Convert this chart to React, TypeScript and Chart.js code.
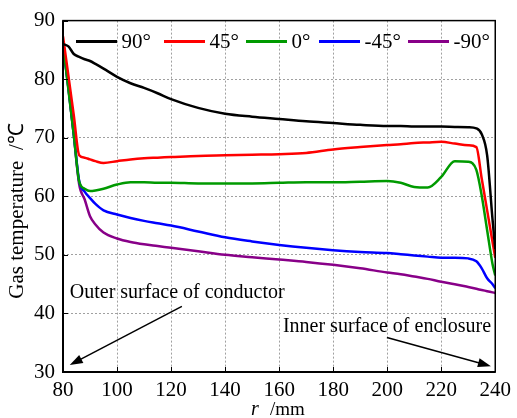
import React, { useEffect, useRef } from 'react';
import { Chart, registerables } from 'chart.js';

Chart.register(...registerables);

const FONT = '"Liberation Serif", "Times New Roman", serif';

// radial position r (mm)
const rValues = [80, 82, 84, 86, 88, 90, 92, 95, 100, 105, 110, 115, 120, 130, 140, 150, 160, 170, 180, 190, 200, 205, 210, 215, 220, 225, 230, 233, 235, 237, 239, 240];

// gas temperature (°C) per angle
const temp90 = [86.0, 85.6, 84.3, 83.8, 83.4, 83.1, 82.6, 81.8, 80.4, 79.3, 78.5, 77.6, 76.6, 75.1, 74.1, 73.6, 73.2, 72.8, 72.5, 72.2, 72.0, 72.0, 71.9, 71.9, 71.9, 71.85, 71.8, 71.6, 70.6, 67.0, 56.0, 51.0];
const temp45 = [87.3, 80.6, 73.8, 67.0, 66.6, 66.3, 66.0, 65.7, 66.0, 66.3, 66.5, 66.6, 66.7, 66.9, 67.0, 67.1, 67.2, 67.4, 68.0, 68.4, 68.75, 68.9, 69.1, 69.2, 69.3, 69.0, 68.7, 68.4, 63.0, 57.6, 52.2, 49.5];
const temp0 = [86.0, 78.2, 70.4, 62.5, 61.3, 60.9, 61.0, 61.3, 62.0, 62.4, 62.4, 62.3, 62.3, 62.2, 62.2, 62.2, 62.3, 62.4, 62.4, 62.5, 62.6, 62.3, 61.6, 61.5, 63.3, 66.0, 65.9, 64.5, 60.1, 54.2, 48.4, 46.5];
const tempM45 = [86.0, 78.5, 70.5, 62.6, 60.8, 59.7, 58.7, 57.6, 56.9, 56.3, 55.8, 55.4, 55.0, 54.0, 53.0, 52.3, 51.7, 51.2, 50.8, 50.5, 50.3, 50.1, 49.9, 49.7, 49.5, 49.5, 49.4, 48.9, 47.7, 46.0, 45.0, 44.3];
const tempM90 = [86.0, 78.5, 70.5, 62.0, 59.5, 56.6, 55.2, 53.8, 52.8, 52.2, 51.8, 51.5, 51.2, 50.6, 50.0, 49.6, 49.2, 48.8, 48.3, 47.7, 47.0, 46.7, 46.3, 45.9, 45.4, 45.0, 44.5, 44.2, 44.0, 43.8, 43.6, 43.5];

const seriesLabels = ['90°', '45°', '0°', '-45°', '-90°'];
const seriesValues = [temp90, temp45, temp0, tempM45, tempM90];
const seriesColors = ['#000000', '#ff0000', '#009a00', '#0000ff', '#880088'];

const xTicks = [80, 100, 120, 140, 160, 180, 200, 220, 240];
const yTicks = [30, 40, 50, 60, 70, 80, 90];

const yTitle = 'Gas temperature  /℃';
const xTitleVar = 'r';
const xTitleUnit = '/mm';
const noteOuter = 'Outer surface of conductor';
const noteInner = 'Inner surface of enclosure';

// legend sample start positions (px)
const legendStarts = [76, 164, 246, 319, 408];

function drawArrow(ctx: CanvasRenderingContext2D, x1: number, y1: number, x2: number, y2: number) {
  const ang = Math.atan2(y2 - y1, x2 - x1);
  const L = 13, W = 4.5;
  const c = Math.cos(ang), s = Math.sin(ang);
  ctx.beginPath();
  ctx.moveTo(x1, y1);
  ctx.lineTo(x2 - (L - 2) * c, y2 - (L - 2) * s);
  ctx.stroke();
  ctx.beginPath();
  ctx.moveTo(x2, y2);
  ctx.lineTo(x2 - L * c + W * s, y2 - L * s - W * c);
  ctx.lineTo(x2 - L * c - W * s, y2 - L * s + W * c);
  ctx.closePath();
  ctx.fill();
}

const decorPlugin = {
  id: 'decor',
  afterDraw(chart: any) {
    const { ctx, chartArea: a, scales } = chart;
    const x = scales.x, y = scales.y;
    ctx.save();
    // inward tick marks
    ctx.strokeStyle = '#000';
    ctx.lineWidth = 1;
    xTicks.forEach((v) => {
      const px = Math.round(x.getPixelForValue(v)) + 0.5;
      ctx.beginPath();
      ctx.moveTo(px, a.bottom);
      ctx.lineTo(px, a.bottom - 5);
      ctx.stroke();
    });
    yTicks.forEach((v) => {
      const py = Math.round(y.getPixelForValue(v)) + 0.5;
      ctx.beginPath();
      ctx.moveTo(a.left, py);
      ctx.lineTo(a.left + 5, py);
      ctx.stroke();
    });
    // frame
    ctx.lineWidth = 1.5;
    ctx.strokeRect(a.left, a.top, a.right - a.left, a.bottom - a.top);
    ctx.lineWidth = 2;
    ctx.beginPath();
    ctx.moveTo(a.left, a.top);
    ctx.lineTo(a.left, a.bottom);
    ctx.lineTo(a.right, a.bottom);
    ctx.stroke();

    // legend
    ctx.font = `21px ${FONT}`;
    ctx.textBaseline = 'middle';
    ctx.textAlign = 'left';
    const ly = a.top + 21;
    chart.data.datasets.forEach((ds: any, i: number) => {
      const lx = legendStarts[i];
      ctx.strokeStyle = ds.borderColor;
      ctx.lineWidth = 3;
      ctx.beginPath();
      ctx.moveTo(lx, ly);
      ctx.lineTo(lx + 41, ly);
      ctx.stroke();
      ctx.fillStyle = '#000';
      ctx.fillText(ds.label, lx + 45.5, ly + 1);
    });

    // annotations
    ctx.fillStyle = '#000';
    ctx.strokeStyle = '#000';
    ctx.lineWidth = 1.5;
    ctx.font = `20px ${FONT}`;
    ctx.textBaseline = 'middle';
    ctx.fillText(noteOuter, x.getPixelForValue(82.5), y.getPixelForValue(43.5));
    ctx.fillText(noteInner, x.getPixelForValue(161.4), y.getPixelForValue(37.7));
    drawArrow(ctx, x.getPixelForValue(124), y.getPixelForValue(41.2), x.getPixelForValue(82.5), y.getPixelForValue(31.2));
    drawArrow(ctx, x.getPixelForValue(199.9), y.getPixelForValue(35.9), x.getPixelForValue(238.4), y.getPixelForValue(31.0));

    // x title
    ctx.textBaseline = 'alphabetic';
    ctx.font = `italic 20px ${FONT}`;
    ctx.fillText(xTitleVar, 251, 415);
    ctx.font = `19px ${FONT}`;
    ctx.fillText(xTitleUnit, 270, 415);

    // y title
    ctx.save();
    ctx.translate(17, 211);
    ctx.rotate(-Math.PI / 2);
    ctx.font = `21px ${FONT}`;
    ctx.textAlign = 'center';
    ctx.textBaseline = 'middle';
    ctx.fillText(yTitle, 0, 0);
    ctx.restore();

    ctx.restore();
  },
};

export default function App() {
  const ref = useRef<HTMLCanvasElement>(null);
  useEffect(() => {
    if (!ref.current) return;
    const chart = new Chart(ref.current, {
      type: 'line',
      data: {
        datasets: seriesLabels.map((label, i) => ({
          label,
          data: rValues.map((r, j) => ({ x: r, y: seriesValues[i][j] })),
          borderColor: seriesColors[i],
          backgroundColor: seriesColors[i],
          borderWidth: 2.5,
          pointRadius: 0,
          cubicInterpolationMode: 'monotone' as const,
          fill: false,
        })),
      },
      options: {
        animation: false,
        responsive: false,
        devicePixelRatio: 1,
        layout: { padding: { top: 20, right: 18, left: 0, bottom: 0 } },
        plugins: { legend: { display: false }, tooltip: { enabled: false } },
        scales: {
          x: {
            type: 'linear',
            min: 80,
            max: 240,
            afterFit: (s: any) => { s.height = 46; },
            ticks: { stepSize: 20, color: '#000', font: { family: FONT, size: 21 }, padding: 6, maxRotation: 0, autoSkip: false },
            grid: { color: '#a0a0a0', lineWidth: 1, drawTicks: false },
            border: { display: false, dash: [2, 2] },
          },
          y: {
            min: 30,
            max: 90,
            afterFit: (s: any) => { s.width = 63; },
            ticks: { stepSize: 10, color: '#000', font: { family: FONT, size: 21 }, padding: 8 },
            grid: { color: '#a0a0a0', lineWidth: 1, drawTicks: false },
            border: { display: false, dash: [2, 2] },
          },
        },
      },
      plugins: [decorPlugin],
    });
    return () => chart.destroy();
  }, []);
  return (
    <div style={{ position: 'fixed', left: 0, top: 0, width: 517, height: 418, background: '#fff' }}>
      <canvas ref={ref} width={517} height={418} style={{ display: 'block', width: 517, height: 418 }} />
    </div>
  );
}
